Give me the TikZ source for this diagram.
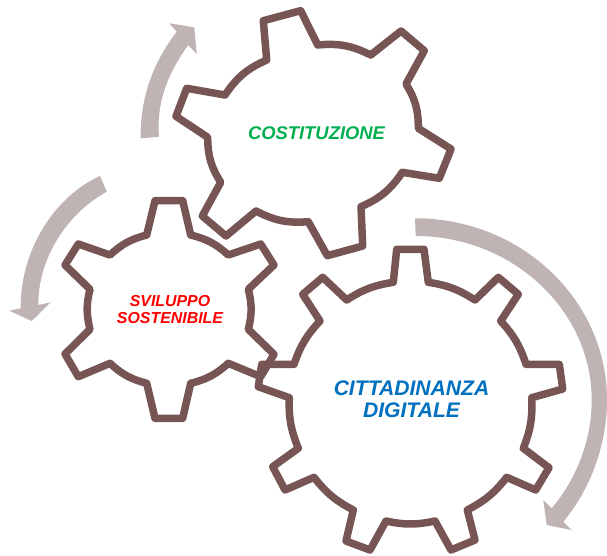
\documentclass[tikz,border=0pt]{standalone}
\usepackage{fontspec}
\setmainfont{Liberation Sans}
\definecolor{gearline}{HTML}{785555}
\definecolor{sweepfill}{HTML}{BFB3B3}
\definecolor{costgreen}{HTML}{00B050}
\definecolor{digiblue}{HTML}{0070C0}
\tikzset{%
	gear/.style     = {draw=gearline, line width=7.5pt, line join=round}, % Gear outline
	sweep/.style    = {fill=sweepfill}, % Curved arrow
	title/.style    = {align=center, inner sep=0pt},
}
\begin{document}
\begin{tikzpicture}[x=1pt,y=-1pt]
		\useasboundingbox (0,0) rectangle (607,555);
		
		\fill[sweep] (415,218.3) .. controls (521,218) and (607,300) .. (607,400) .. controls (607,445) and (590,490) .. (563.3,521.7) -- (571.7,530) -- (546.7,525) -- (543.3,500) -- (551.7,508.3) .. controls (577,478) and (591.7,440) .. (591.7,400) .. controls (591.7,310) and (512,236) .. (415.7,236) -- cycle;
		\fill[sweep] (100,176) .. controls (55,196) and (20,250) .. (20.7,308.3) -- (9.3,310.7) -- (31.7,321) -- (50.7,302.3) -- (38.3,305) .. controls (38,260) and (65,215) .. (106.7,191.7) -- cycle;
		\fill[sweep] (140.7,138.3) .. controls (140,95) and (155,60) .. (176.7,31.7) -- (169.3,23.3) -- (194.3,27.3) -- (196.7,54) -- (188.3,45) .. controls (170,70) and (156,100) .. (159,136.7) -- cycle;
		
		\draw[gear] (263.3,20.7) -- (300.7,10.7) -- (317.7,45) to[bend left=16] (370.7,55) -- (401,31) -- (424.3,50.7) -- (406,84) to[bend left=16] (418.3,128.3) -- (451,149) -- (439.3,178.3) -- (402.3,172.3) to[bend left=16] (361,206.7) -- (362.7,246) -- (327.3,255.7) -- (308.3,221.7) to[bend left=16] (256,211) -- (226,236) -- (202.3,216) -- (220.7,182.3) to[bend left=16] (207.7,137.3) -- (176,116.3) -- (186.7,88.3) -- (225,95) to[bend left=16] (266.7,60) -- cycle;
		
		\draw[gear] (155,200.7) -- (182.7,200.7) -- (190.7,235) to[bend left=14] (228.3,255) -- (260.7,244) -- (274,265) -- (248.3,289.3) to[bend left=14] (248.3,329.3) -- (274,354.3) -- (260.7,376.7) -- (228.3,363.3) to[bend left=14] (190.7,383.3) -- (182.7,418.3) -- (155,418.3) -- (146.7,383.3) to[bend left=14] (110,363.3) -- (78.3,376.7) -- (65,354) -- (90,329.3) to[bend left=14] (90,289.3) -- (65,265) -- (78.3,244) -- (110,255) to[bend left=14] (146.7,235) -- cycle;
		
		\draw[gear] (396.7,249.3) -- (424,249.3) -- (428.3,282.3) to[bend left=12] (475,300) -- (498.3,277.3) -- (518.3,294.3) -- (500.7,321) to[bend left=12] (526,364.3) -- (559.3,364.3) -- (562.7,389) -- (531.7,397.7) to[bend left=12] (523.3,448.3) -- (549,467.7) -- (535.7,490) -- (506.7,477.3) to[bend left=12] (467.3,510) -- (475,540) -- (451,550) -- (435,521) to[bend left=12] (386,521) -- (370,550) -- (346,541) -- (353.3,510) to[bend left=12] (314,477.3) -- (285,490) -- (272.7,466.7) -- (298.3,448.3) to[bend left=12] (289.3,397.7) -- (258.3,386.7) -- (261.7,364.3) -- (294,364.3) to[bend left=12] (320,321) -- (302.7,294.3) -- (322.7,277.3) -- (346.7,300) to[bend left=12] (393.3,282.3) -- cycle;
		
		\node [title,text=costgreen,font=\bfseries\itshape\fontsize{18.4}{20}\selectfont] (cost) at (316.5,133) {COSTITUZIONE};
		\node [title,text=red,font=\bfseries\itshape\fontsize{15.9}{16.7}\selectfont] (svil) at (170,309.5) {SVILUPPO\\SOSTENIBILE};
		\node [title,text=digiblue,font=\bfseries\itshape\fontsize{21.1}{22.3}\selectfont] (citt) at (411.5,399) {CITTADINANZA\\DIGITALE};
	\end{tikzpicture}
\end{document}
